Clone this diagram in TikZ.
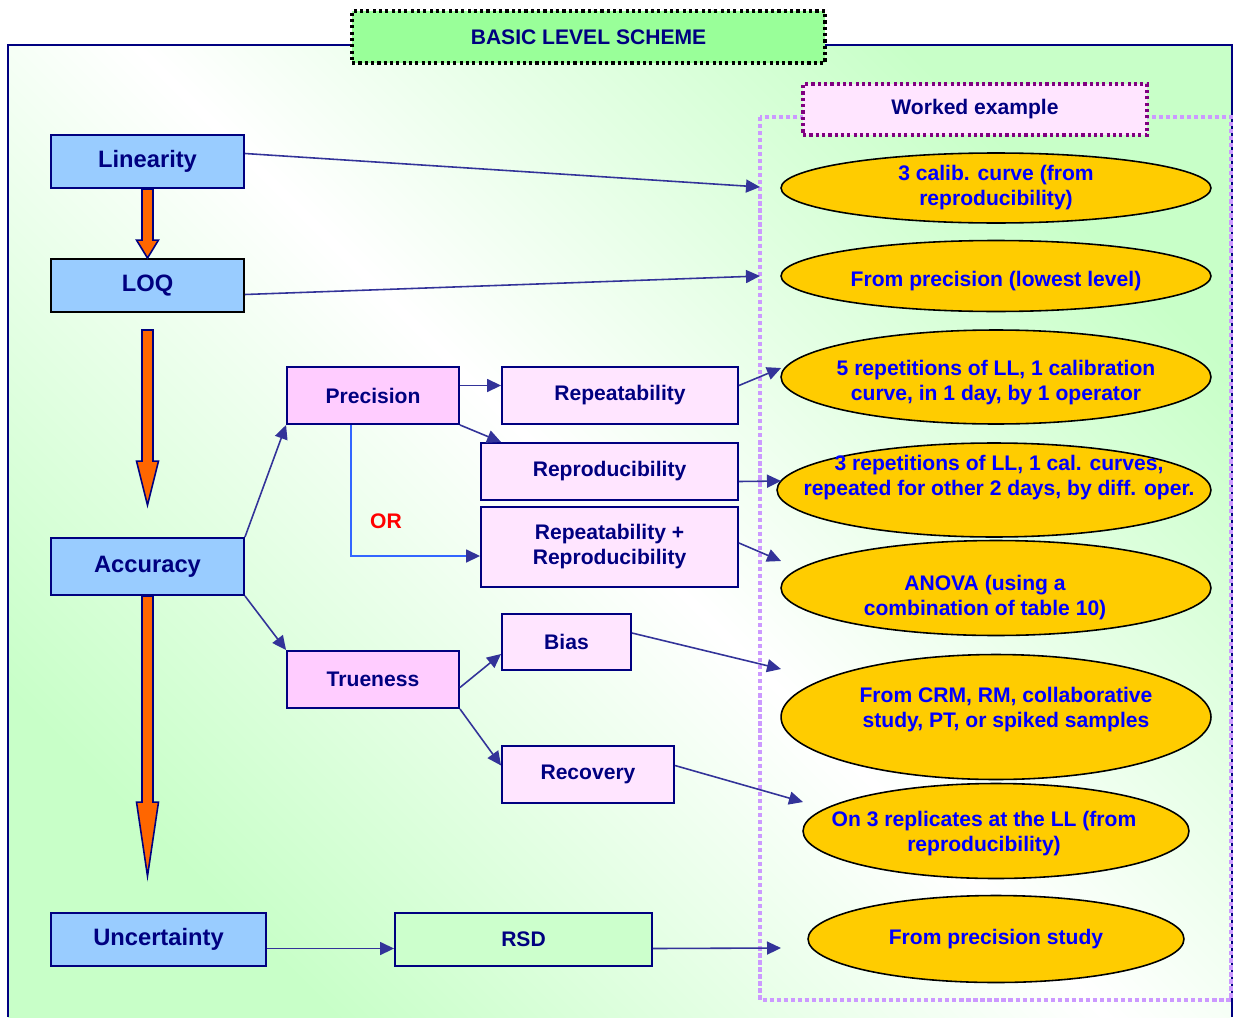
\documentclass[tikz,border=0pt]{standalone}
\usepackage{fontspec}
\setmainfont{Liberation Sans}
\usetikzlibrary{calc,arrows.meta,shapes.geometric}

\definecolor{navy}{HTML}{000080}
\definecolor{linkblue}{HTML}{333399}
\definecolor{orblue}{HTML}{3366FF}
\definecolor{skyfill}{HTML}{99CCFF}
\definecolor{pinkfill}{HTML}{FFCCFF}
\definecolor{palepink}{HTML}{FFE5FF}
\definecolor{mintfill}{HTML}{CCFFCC}
\definecolor{titlegreen}{HTML}{99FF99}
\definecolor{goldfill}{HTML}{FFCC00}
\definecolor{lavender}{HTML}{CC99FF}
\definecolor{plum}{HTML}{800080}
\definecolor{orangefill}{HTML}{FF6600}
\definecolor{bggreen}{HTML}{C8FFC8}

\tikzset{
  mainbox/.style={draw=navy, line width=1.1pt, fill=skyfill, text=navy,
    font=\fontsize{13.5}{16}\selectfont\bfseries, inner sep=0pt},
  subbox/.style={draw=navy, line width=1.1pt, fill=pinkfill, text=navy,
    font=\fontsize{12}{14.2}\selectfont\bfseries, inner sep=0pt, align=center},
  leafbox/.style={subbox, fill=palepink},
  result/.style={ellipse, draw=black, line width=0.9pt, fill=goldfill, inner sep=0pt},
  resulttext/.style={text=blue, font=\fontsize{12}{14.2}\selectfont\bfseries,
    inner sep=0pt, align=center},
  link/.style={draw=linkblue, line width=0.9pt, -{Triangle[length=2.8mm,width=2.6mm]}},
  fatarrow/.style={draw=navy, line width=0.9pt, fill=orangefill, line join=miter},
}

\begin{document}
\begin{tikzpicture}[x=0.02cm,y=-0.02cm]
  \useasboundingbox (0,0) rectangle (1236,1017);
  % fond et cadre
  \shade[left color=bggreen, right color=bggreen, middle color=white, shading angle=-45]
    (8,1017) -- (8,45) -- (1232,45) -- (1232,1017) -- cycle;
  \draw[navy, line width=1.1pt] (8,1017) -- (8,45) -- (1232,45) -- (1232,1017);
  % titre
  \node[draw=black, line width=1.8pt, dash pattern=on 1.8pt off 1.8pt, fill=titlegreen,
    text=navy, font=\fontsize{12}{14}\selectfont\bfseries,
    minimum width=9.46cm, minimum height=1.04cm] (title) at (588.5,37) {BASIC LEVEL SCHEME};
  % zone exemple
  \draw[lavender, line width=2pt, dash pattern=on 2.4pt off 1.6pt] (760,117) rectangle (1231,1000);
  \node[draw=plum, line width=1.8pt, dash pattern=on 1.8pt off 1.8pt, fill=palepink,
    text=navy, font=\fontsize{12}{14}\selectfont\bfseries,
    minimum width=6.88cm, minimum height=1.02cm] (worked) at (975,109.5) {Worked example};

  % colonne principale
  \node[mainbox, minimum width=3.86cm, minimum height=1.06cm] (lin) at (147.5,161.5) {Linearity};
  \node[mainbox, draw=black, minimum width=3.86cm, minimum height=1.06cm] (loq) at (147.5,285.5) {LOQ};
  \node[mainbox, minimum width=3.86cm, minimum height=1.14cm] (acc) at (147.5,566.5) {Accuracy};
  \node[mainbox, minimum width=4.3cm, minimum height=1.06cm] (unc) at (158.5,939.5) {Uncertainty};

  % branches
  \node[subbox, minimum width=3.44cm, minimum height=1.14cm] (prec) at (373,395.5) {Precision};
  \node[subbox, minimum width=3.44cm, minimum height=1.14cm] (true) at (373,679.5) {Trueness};
  \node[leafbox, minimum width=4.72cm, minimum height=1.14cm] (rpt) at (620,395.5) {Repeatability};
  \node[leafbox, minimum width=5.14cm, minimum height=1.14cm] (rpd) at (609.5,471.5) {Reproducibility};
  \node[leafbox, minimum width=5.14cm, minimum height=1.6cm] (rr) at (609.5,547) {Repeatability +\\Reproducibility};
  \node[leafbox, minimum width=2.58cm, minimum height=1.12cm] (bias) at (566.5,642) {Bias};
  \node[leafbox, minimum width=3.44cm, minimum height=1.14cm] (rec) at (588,774.5) {Recovery};
  \node[subbox, fill=mintfill, minimum width=5.14cm, minimum height=1.06cm] (rsd) at (523.5,939.5) {RSD};
  \node[text=red, font=\fontsize{12}{14}\selectfont\bfseries] (or) at (386,521) {OR};

  % exemples
  \node[result, minimum width=8.6cm, minimum height=1.4cm,
    label={[resulttext]center:3 calib. curve (from\\reproducibility)}] (ecalib) at (996,188) {};
  \node[result, minimum width=8.6cm, minimum height=1.42cm,
    label={[resulttext, yshift=-0.1cm]center:From precision (lowest level)}] (elowest) at (996,276) {};
  \node[result, minimum width=8.6cm, minimum height=1.88cm,
    label={[resulttext, yshift=-0.12cm]center:5 repetitions of LL, 1 calibration\\curve, in 1 day, by 1 operator}] (efive) at (996,377) {};
  \node[result, minimum width=8.68cm, minimum height=1.88cm,
    label={[resulttext, yshift=0.24cm, xshift=0.1cm]center:3 repetitions of LL, 1 cal. curves,\\repeated for other 2 days, by diff. oper.}] (ethree) at (994,490) {};
  \node[result, minimum width=8.6cm, minimum height=1.9cm,
    label={[resulttext, yshift=-0.2cm, xshift=-0.22cm]center:ANOVA (using a\\combination of table 10)}] (eanova) at (996,588) {};
  \node[result, minimum width=8.6cm, minimum height=2.5cm,
    label={[resulttext, yshift=0.14cm, xshift=0.2cm]center:From CRM, RM, collaborative\\study, PT, or spiked samples}] (ecrm) at (996,717) {};
  \node[result, minimum width=7.72cm, minimum height=1.9cm,
    label={[resulttext, yshift=-0.06cm, xshift=-0.24cm]center:On 3 replicates at the LL (from\\reproducibility)}] (erepl) at (996,831) {};
  \node[result, minimum width=7.52cm, minimum height=1.74cm,
    label={[resulttext]center:From precision study}] (estudy) at (996,939) {};

  % fleches epaisses
  \foreach \from/\to/\ga/\gb/\h in {lin/loq/0/0/18, loq/acc/17/32/44, acc/unc/0/36/74}{
    \coordinate (top) at ($(\from.south)+(0,\ga)$);
    \coordinate (tip) at ($(\from.south |- \to.north)+(0,-\gb)$);
    \draw[fatarrow] ($(top)+(-5.5,0)$) -- ($(tip)+(-5.5,-\h)$) -- ($(tip)+(-11,-\h)$) -- (tip)
      -- ($(tip)+(11,-\h)$) -- ($(tip)+(5.5,-\h)$) -- ($(top)+(5.5,0)$) -- cycle;
  }

  % extremites libres
  \coordinate (tlin) at (760,187);
  \coordinate (tloq) at (760,276);
  \coordinate (trpt) at (781,368);
  \coordinate (trpd) at (781,481);
  \coordinate (trr) at (781,561);
  \coordinate (tbias) at (781,669);
  \coordinate (trec) at (803,802);
  \coordinate (trsd) at (781,948);

  % liaisons
  \draw[link] ($(lin.east)+(0,-8)$) -- (tlin);
  \draw[link] ($(loq.east)+(0,9)$) -- (tloq);
  \draw[link] (acc.north east) -- (prec.south west);
  \draw[link] (acc.south east) -- (true.north west);
  \draw[link] ($(prec.east)+(0,-10)$) -- ($(rpt.west)+(0,-10)$);
  \draw[link] (prec.south east) -- ($(rpd.north west)+(21,0)$);
  \draw[link, draw=orblue, -{Triangle[length=2.8mm,width=2.6mm,color=linkblue]}]
    ($(prec.south)+(-22,0)$) |- ($(rr.west)+(0,9)$);
  \draw[link] ($(true.east)+(0,8)$) -- ($(bias.west)+(0,12)$);
  \draw[link] (true.south east) -- ($(rec.west)+(0,-9)$);
  \draw[link] ($(rpt.east)+(0,-10)$) -- (trpt);
  \draw[link] ($(rpd.east)+(0,10)$) -- (trpd);
  \draw[link] ($(rr.east)+(0,-4)$) -- (trr);
  \draw[link] ($(bias.east)+(0,-9)$) -- (tbias);
  \draw[link] ($(rec.east)+(0,-9)$) -- (trec);
  \draw[link] ($(unc.east)+(0,9)$) -- ($(rsd.west)+(0,9)$);
  \draw[link] ($(rsd.east)+(0,9)$) -- (trsd);
\end{tikzpicture}
\end{document}
